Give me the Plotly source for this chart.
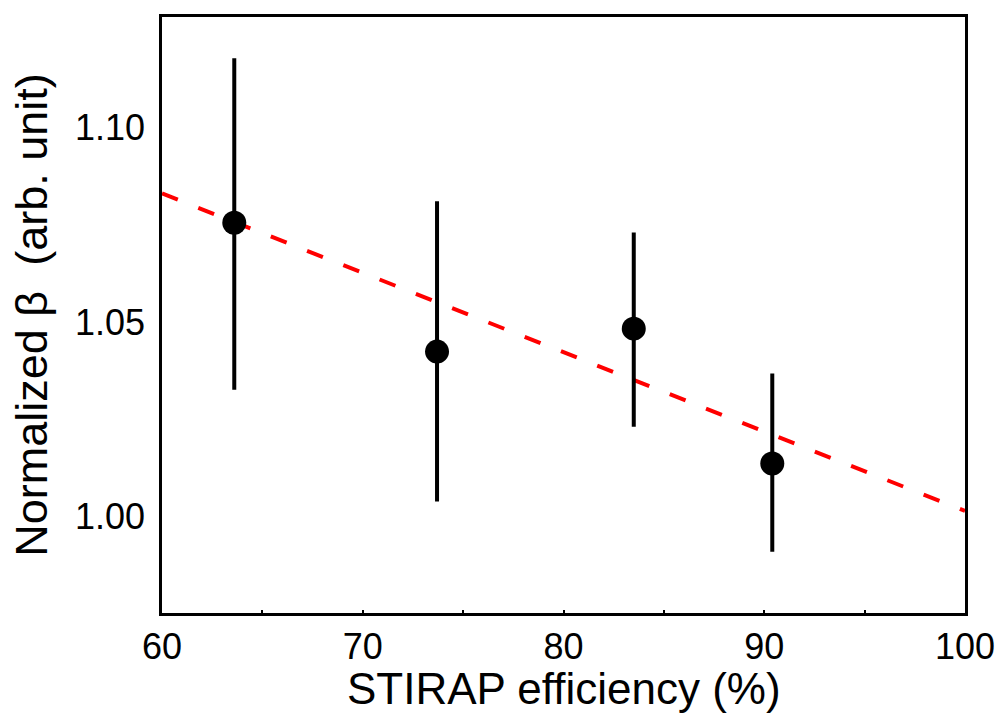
import plotly.graph_objects as go

efficiency = [63.6, 73.7, 83.5, 90.4]
beta = [1.0755, 1.0424, 1.0483, 1.0137]
err_plus = [0.0422, 0.0386, 0.0247, 0.0231]
err_minus = [0.0429, 0.0385, 0.0252, 0.0227]

fit_x = [60, 100]
fit_y = [1.0830, 1.0015]

x_title = "STIRAP efficiency (%)"
y_title = "Normalized β  (arb. unit)"

fig = go.Figure()
fig.add_trace(go.Scatter(x=fit_x, y=fit_y, mode="lines",
                         line=dict(color="#ff0000", width=4, dash="17px,22px"),
                         showlegend=False, hoverinfo="skip"))
fig.add_trace(go.Scatter(x=efficiency, y=beta, mode="markers",
                         marker=dict(color="black", size=24),
                         error_y=dict(type="data", symmetric=False, array=err_plus,
                                      arrayminus=err_minus, color="black",
                                      thickness=4, width=0),
                         showlegend=False))

font = "Liberation Sans, Arial, sans-serif"
fig.update_layout(
    width=1000, height=713,
    margin=dict(l=162, r=35, t=17, b=100),
    plot_bgcolor="white", paper_bgcolor="white",
    font=dict(family=font, color="black"),
    xaxis=dict(range=[60, 100], dtick=10, tick0=60, ticks="inside", ticklen=3,
               tickwidth=1.5, tickcolor="black", automargin=False,
               minor=dict(dtick=5, ticks="inside", ticklen=3, tickcolor="black"),
               showgrid=False, zeroline=False, showline=True, linecolor="black",
               linewidth=2.5, mirror=True, tickfont=dict(size=36)),
    yaxis=dict(range=[0.9753, 1.1283], tickvals=[1.00, 1.05, 1.10],
               ticktext=["1.00", "1.05", "1.10"], ticks="", showgrid=False,
               zeroline=False, showline=True, linecolor="black", linewidth=2.5,
               mirror=True, tickfont=dict(size=36), automargin=False,
               ticklabelstandoff=7,
               title=dict(text=y_title, font=dict(size=45), standoff=14)),
    annotations=[dict(text=x_title, xref="paper", yref="paper", x=0.5, y=0,
                      xanchor="center", yanchor="top", yshift=-49,
                      showarrow=False, font=dict(size=44))],
)
fig.write_html("out.html", config={"displayModeBar": False},
               post_script="document.body.style.margin='0';document.body.style.overflow='hidden';")
